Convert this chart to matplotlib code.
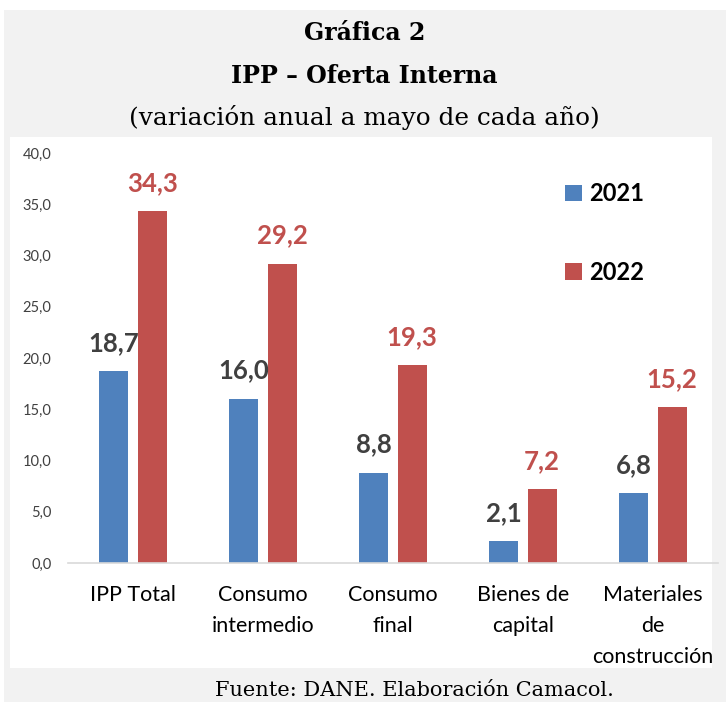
import numpy as np
import matplotlib
matplotlib.use("Agg")
import matplotlib.pyplot as plt
from matplotlib.patches import Rectangle

categories = ["IPP Total", "Consumo\nintermedio", "Consumo\nfinal", "Bienes de\ncapital", "Materiales\nde\nconstrucción"]
series_names = ["2021", "2022"]
values_2021 = [18.7, 16.0, 8.8, 2.1, 6.8]
values_2022 = [34.3, 29.2, 19.3, 7.2, 15.2]
yticks = [0, 5, 10, 15, 20, 25, 30, 35, 40]

blue = "#4F81BD"
red = "#C0504D"

W, H = 726, 702
fig = plt.figure(figsize=(W / 100, H / 100), dpi=100)
fig.patch.set_facecolor("white")

# gray frame and white chart panel
fig.add_artist(Rectangle((4 / W, 0), 1 - 4 / W, 1 - 10 / H, transform=fig.transFigure,
                         facecolor="#F2F2F2", edgecolor="none", zorder=-2))
fig.add_artist(Rectangle((10 / W, 1 - 668 / H), 702 / W, 531 / H, transform=fig.transFigure,
                         facecolor="white", edgecolor="none", zorder=-1))

serif = "DejaVu Serif"
fig.text(0.502, 1 - 33 / H, "Gráfica 2", ha="center", va="center", family=serif,
         fontweight="bold", fontsize=17)
fig.text(0.502, 1 - 76 / H, "IPP – Oferta Interna", ha="center", va="center", family=serif,
         fontweight="bold", fontsize=17)
fig.text(0.502, 1 - 118 / H, "(variación anual a mayo de cada año)", ha="center", va="center",
         family=serif, fontsize=17.8)
fig.text(0.571, 1 - 690 / H, "Fuente: DANE. Elaboración Camacol.", ha="center", va="center",
         family=serif, fontsize=15)

ax = fig.add_axes([68 / W, 1 - 563 / H, 650 / W, 410 / H])
ax.set_facecolor("none")
x = np.arange(len(categories))
bw = 0.225
off = 0.1475
ax.bar(x - off, values_2021, bw, color=blue, label=series_names[0])
ax.bar(x + off, values_2022, bw, color=red, label=series_names[1])

sans = "Lato"
for xi, v in zip(x, values_2021):
    ax.text(xi - off, v + 1.6, f"{v:.1f}".replace(".", ","), ha="center", va="bottom",
            family=sans, fontweight="bold", fontsize=18.5, color="#404040")
for xi, v in zip(x, values_2022):
    ax.text(xi + off, v + 1.6, f"{v:.1f}".replace(".", ","), ha="center", va="bottom",
            family=sans, fontweight="bold", fontsize=18.5, color=red)

ax.set_xlim(-0.5, len(categories) - 0.5)
ax.set_ylim(0, 40)
ax.set_yticks(yticks)
ax.set_yticklabels([f"{t:.1f}".replace(".", ",") for t in yticks], family=sans,
                   fontsize=10.5, color="#404040")
ax.set_xticks(x)
ax.set_xticklabels(categories, family=sans, fontsize=15.5, color="black", linespacing=1.68)
ax.tick_params(axis="both", length=0)
ax.tick_params(axis="x", pad=16)
ax.tick_params(axis="y", pad=12)
for s in ["top", "right", "left"]:
    ax.spines[s].set_visible(False)
ax.spines["bottom"].set_color("#D9D9D9")
ax.spines["bottom"].set_linewidth(1.2)

ax.legend(loc="upper left", bbox_to_anchor=(0.732, 0.98), frameon=False,
          prop={"family": sans, "weight": "bold", "size": 17},
          handlelength=0.7, handleheight=0.7, handletextpad=0.3, labelspacing=2.35)

fig.savefig("out.png", dpi=100)
